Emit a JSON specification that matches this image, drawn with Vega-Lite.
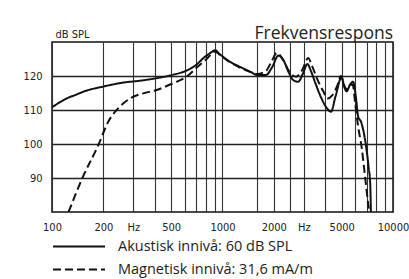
{
  "$schema": "https://vega.github.io/schema/vega-lite/v6.json",
  "width": 341,
  "height": 170,
  "autosize": {"type": "none"},
  "padding": {"left": 52, "top": 42, "right": 16, "bottom": 67},
  "background": "white",
  "title": {"text": "Frekvensrespons", "anchor": "end", "frame": "group", "fontSize": 17.5, "font": "Open Sans", "fontWeight": "normal", "color": "#222", "offset": 4, "dy": 18.5},
  "config": {"view": {"stroke": "#111", "strokeWidth": 1.5}},
  "data": {"values": [
    {"f": 100, "db": 110.8, "s": "Akustisk innivå: 60 dB SPL"},
    {"f": 122, "db": 113.4, "s": "Akustisk innivå: 60 dB SPL"},
    {"f": 140, "db": 114.6, "s": "Akustisk innivå: 60 dB SPL"},
    {"f": 153, "db": 115.4, "s": "Akustisk innivå: 60 dB SPL"},
    {"f": 200, "db": 116.9, "s": "Akustisk innivå: 60 dB SPL"},
    {"f": 274, "db": 118.2, "s": "Akustisk innivå: 60 dB SPL"},
    {"f": 300, "db": 118.4, "s": "Akustisk innivå: 60 dB SPL"},
    {"f": 393, "db": 119.2, "s": "Akustisk innivå: 60 dB SPL"},
    {"f": 515, "db": 120.4, "s": "Akustisk innivå: 60 dB SPL"},
    {"f": 616, "db": 121.6, "s": "Akustisk innivå: 60 dB SPL"},
    {"f": 706, "db": 123.4, "s": "Akustisk innivå: 60 dB SPL"},
    {"f": 770, "db": 125.2, "s": "Akustisk innivå: 60 dB SPL"},
    {"f": 850, "db": 126.8, "s": "Akustisk innivå: 60 dB SPL"},
    {"f": 905, "db": 127.6, "s": "Akustisk innivå: 60 dB SPL"},
    {"f": 960, "db": 126.5, "s": "Akustisk innivå: 60 dB SPL"},
    {"f": 1107, "db": 124.2, "s": "Akustisk innivå: 60 dB SPL"},
    {"f": 1265, "db": 122.7, "s": "Akustisk innivå: 60 dB SPL"},
    {"f": 1450, "db": 121.3, "s": "Akustisk innivå: 60 dB SPL"},
    {"f": 1600, "db": 120.3, "s": "Akustisk innivå: 60 dB SPL"},
    {"f": 1800, "db": 120.3, "s": "Akustisk innivå: 60 dB SPL"},
    {"f": 1950, "db": 122.5, "s": "Akustisk innivå: 60 dB SPL"},
    {"f": 2128, "db": 126.0, "s": "Akustisk innivå: 60 dB SPL"},
    {"f": 2274, "db": 124.7, "s": "Akustisk innivå: 60 dB SPL"},
    {"f": 2450, "db": 121.0, "s": "Akustisk innivå: 60 dB SPL"},
    {"f": 2600, "db": 118.8, "s": "Akustisk innivå: 60 dB SPL"},
    {"f": 2782, "db": 118.3, "s": "Akustisk innivå: 60 dB SPL"},
    {"f": 2950, "db": 120.5, "s": "Akustisk innivå: 60 dB SPL"},
    {"f": 3150, "db": 123.5, "s": "Akustisk innivå: 60 dB SPL"},
    {"f": 3300, "db": 121.5, "s": "Akustisk innivå: 60 dB SPL"},
    {"f": 3500, "db": 118.0, "s": "Akustisk innivå: 60 dB SPL"},
    {"f": 3800, "db": 113.5, "s": "Akustisk innivå: 60 dB SPL"},
    {"f": 4100, "db": 110.5, "s": "Akustisk innivå: 60 dB SPL"},
    {"f": 4330, "db": 109.5, "s": "Akustisk innivå: 60 dB SPL"},
    {"f": 4600, "db": 114.0, "s": "Akustisk innivå: 60 dB SPL"},
    {"f": 4990, "db": 119.6, "s": "Akustisk innivå: 60 dB SPL"},
    {"f": 5200, "db": 116.5, "s": "Akustisk innivå: 60 dB SPL"},
    {"f": 5350, "db": 115.5, "s": "Akustisk innivå: 60 dB SPL"},
    {"f": 5600, "db": 117.5, "s": "Akustisk innivå: 60 dB SPL"},
    {"f": 5830, "db": 118.3, "s": "Akustisk innivå: 60 dB SPL"},
    {"f": 6050, "db": 114.0, "s": "Akustisk innivå: 60 dB SPL"},
    {"f": 6250, "db": 108.0, "s": "Akustisk innivå: 60 dB SPL"},
    {"f": 6500, "db": 106.5, "s": "Akustisk innivå: 60 dB SPL"},
    {"f": 6700, "db": 104.0, "s": "Akustisk innivå: 60 dB SPL"},
    {"f": 7000, "db": 98.2, "s": "Akustisk innivå: 60 dB SPL"},
    {"f": 7200, "db": 93.0, "s": "Akustisk innivå: 60 dB SPL"},
    {"f": 7350, "db": 88.5, "s": "Akustisk innivå: 60 dB SPL"},
    {"f": 7420, "db": 80.0, "s": "Akustisk innivå: 60 dB SPL"},
    {"f": 125, "db": 80.0, "s": "Magnetisk innivå: 31,6 mA/m"},
    {"f": 152, "db": 90.4, "s": "Magnetisk innivå: 31,6 mA/m"},
    {"f": 187, "db": 99.7, "s": "Magnetisk innivå: 31,6 mA/m"},
    {"f": 214, "db": 106.6, "s": "Magnetisk innivå: 31,6 mA/m"},
    {"f": 250, "db": 111.0, "s": "Magnetisk innivå: 31,6 mA/m"},
    {"f": 287, "db": 113.4, "s": "Magnetisk innivå: 31,6 mA/m"},
    {"f": 343, "db": 114.9, "s": "Magnetisk innivå: 31,6 mA/m"},
    {"f": 411, "db": 115.9, "s": "Magnetisk innivå: 31,6 mA/m"},
    {"f": 515, "db": 117.9, "s": "Magnetisk innivå: 31,6 mA/m"},
    {"f": 616, "db": 119.8, "s": "Magnetisk innivå: 31,6 mA/m"},
    {"f": 706, "db": 122.5, "s": "Magnetisk innivå: 31,6 mA/m"},
    {"f": 807, "db": 125.0, "s": "Magnetisk innivå: 31,6 mA/m"},
    {"f": 905, "db": 127.2, "s": "Magnetisk innivå: 31,6 mA/m"},
    {"f": 960, "db": 126.3, "s": "Magnetisk innivå: 31,6 mA/m"},
    {"f": 1107, "db": 124.0, "s": "Magnetisk innivå: 31,6 mA/m"},
    {"f": 1265, "db": 122.5, "s": "Magnetisk innivå: 31,6 mA/m"},
    {"f": 1450, "db": 121.2, "s": "Magnetisk innivå: 31,6 mA/m"},
    {"f": 1600, "db": 120.6, "s": "Magnetisk innivå: 31,6 mA/m"},
    {"f": 1800, "db": 121.5, "s": "Magnetisk innivå: 31,6 mA/m"},
    {"f": 1950, "db": 124.5, "s": "Magnetisk innivå: 31,6 mA/m"},
    {"f": 2080, "db": 126.8, "s": "Magnetisk innivå: 31,6 mA/m"},
    {"f": 2250, "db": 125.0, "s": "Magnetisk innivå: 31,6 mA/m"},
    {"f": 2450, "db": 121.5, "s": "Magnetisk innivå: 31,6 mA/m"},
    {"f": 2700, "db": 119.8, "s": "Magnetisk innivå: 31,6 mA/m"},
    {"f": 2950, "db": 122.0, "s": "Magnetisk innivå: 31,6 mA/m"},
    {"f": 3180, "db": 125.3, "s": "Magnetisk innivå: 31,6 mA/m"},
    {"f": 3350, "db": 123.0, "s": "Magnetisk innivå: 31,6 mA/m"},
    {"f": 3600, "db": 119.0, "s": "Magnetisk innivå: 31,6 mA/m"},
    {"f": 3900, "db": 115.5, "s": "Magnetisk innivå: 31,6 mA/m"},
    {"f": 4130, "db": 113.4, "s": "Magnetisk innivå: 31,6 mA/m"},
    {"f": 4400, "db": 114.3, "s": "Magnetisk innivå: 31,6 mA/m"},
    {"f": 4700, "db": 117.0, "s": "Magnetisk innivå: 31,6 mA/m"},
    {"f": 4950, "db": 120.0, "s": "Magnetisk innivå: 31,6 mA/m"},
    {"f": 5200, "db": 117.0, "s": "Magnetisk innivå: 31,6 mA/m"},
    {"f": 5350, "db": 116.0, "s": "Magnetisk innivå: 31,6 mA/m"},
    {"f": 5600, "db": 117.3, "s": "Magnetisk innivå: 31,6 mA/m"},
    {"f": 5800, "db": 117.5, "s": "Magnetisk innivå: 31,6 mA/m"},
    {"f": 6000, "db": 112.0, "s": "Magnetisk innivå: 31,6 mA/m"},
    {"f": 6250, "db": 105.0, "s": "Magnetisk innivå: 31,6 mA/m"},
    {"f": 6550, "db": 99.0, "s": "Magnetisk innivå: 31,6 mA/m"},
    {"f": 6800, "db": 92.0, "s": "Magnetisk innivå: 31,6 mA/m"},
    {"f": 7050, "db": 85.0, "s": "Magnetisk innivå: 31,6 mA/m"},
    {"f": 7250, "db": 80.0, "s": "Magnetisk innivå: 31,6 mA/m"}
  ]},
  "mark": {"type": "line", "color": "#111", "strokeWidth": 2, "clip": true, "interpolate": "monotone"},
  "encoding": {
    "x": {
      "field": "f", "type": "quantitative",
      "scale": {"type": "log", "domain": [100, 10000], "nice": false},
      "axis": {
        "values": [100, 200, 300, 400, 500, 600, 700, 800, 900, 1000, 1600, 2000, 2500, 3000, 4000, 5000, 6000, 7000, 8000, 9000, 10000],
        "labelExpr": "indexof([100,200,500,1000,2000,5000,10000], datum.value) >= 0 ? datum.value : (datum.value == 300 || datum.value == 3000 ? 'Hz' : '')",
        "grid": true, "gridColor": "#333", "gridWidth": 1.1,
        "ticks": false, "domain": false, "title": null,
        "labelFont": "DejaVu Sans Condensed, Liberation Sans Narrow, Roboto, sans-serif", "labelFontSize": 11, "labelColor": "#222",
        "labelPadding": 9, "labelOverlap": false, "labelFlush": false, "labelBound": false
      }
    },
    "y": {
      "field": "db", "type": "quantitative",
      "scale": {"domain": [80, 130], "nice": false, "zero": false},
      "axis": {
        "values": [90, 100, 110, 120],
        "grid": true, "gridColor": "#222", "gridWidth": 1.5,
        "ticks": false, "domain": false, "labelPadding": 10,
        "labelFont": "DejaVu Sans Condensed, Liberation Sans Narrow, Roboto, sans-serif", "labelFontSize": 11, "labelColor": "#222",
        "title": "dB SPL", "titleAngle": 0, "titleAlign": "left", "titleBaseline": "alphabetic",
        "titleX": 3, "titleY": -5, "titleFont": "DejaVu Sans Condensed, Liberation Sans Narrow, Roboto, sans-serif", "titleFontSize": 11,
        "titleFontWeight": "normal", "titleColor": "#222"
      }
    },
    "strokeDash": {
      "field": "s", "type": "nominal",
      "scale": {"domain": ["Akustisk innivå: 60 dB SPL", "Magnetisk innivå: 31,6 mA/m"], "range": [[1, 0], [8, 4]]},
      "legend": {
        "orient": "none", "legendX": 0, "legendY": 196, "title": null,
        "symbolType": "stroke", "symbolSize": 2704, "symbolStrokeWidth": 2, "symbolStrokeColor": "#111",
        "labelFont": "Open Sans", "labelFontSize": 14.5, "labelColor": "#222", "labelOffset": 12,
        "clipHeight": 17, "rowPadding": 6, "padding": 0, "direction": "vertical", "labelLimit": 300
      }
    }
  }
}
